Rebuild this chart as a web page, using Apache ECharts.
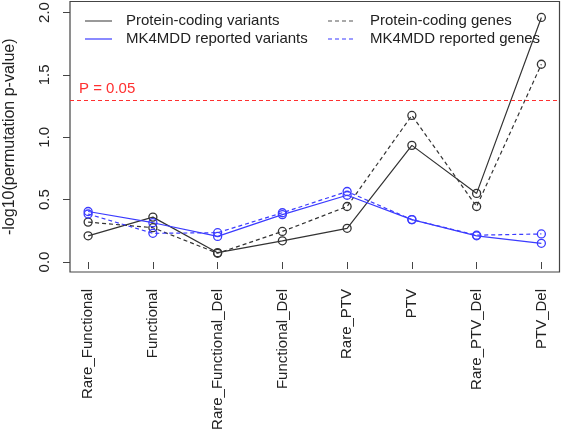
<!DOCTYPE html>
<html><head><meta charset="utf-8">
<script src="https://cdn.jsdelivr.net/npm/echarts@6/dist/echarts.min.js"></script>
<style>html,body{margin:0;padding:0;background:#fff}#c{width:562px;height:437px}</style>
</head><body><div id="c"></div>
<script>
const categories = ['Rare_Functional','Functional','Rare_Functional_Del','Functional_Del','Rare_PTV','PTV','Rare_PTV_Del','PTV_Del'];
const seriesNames = ['Protein-coding variants','MK4MDD reported variants','Protein-coding genes','MK4MDD reported genes'];
const pcVariants = [0.21, 0.36, 0.075, 0.17, 0.27, 0.935, 0.55, 1.96];
const mkVariants = [0.405, 0.315, 0.205, 0.38, 0.535, 0.34, 0.21, 0.15];
const pcGenes = [0.32, 0.275, 0.07, 0.245, 0.445, 1.175, 0.445, 1.585];
const mkGenes = [0.385, 0.23, 0.235, 0.395, 0.565, 0.34, 0.215, 0.225];
const yTicks = [0, 0.5, 1.0, 1.5, 2.0];
const pThreshold = 0.05;
const pLabel = 'P = 0.05';

const FONT = 'Liberation Sans, Arial, sans-serif';
const BLACK = '#333333';
const BLUE = '#3b3bff';
const xIdx = categories.map((c, i) => i + 1);
const toPts = arr => arr.map((v, i) => [i + 1, v]);

function mkSeries(name, data, color, dashed, withMark) {
  const s = {
    name, type: 'line', data: toPts(data),
    symbol: 'circle', symbolSize: 8,
    itemStyle: { color: 'rgba(0,0,0,0)', borderColor: color, borderWidth: 1.3 },
    lineStyle: { color, width: 1.2, type: dashed ? [4, 3] : 'solid' },
    emphasis: { disabled: true }, z: 3
  };
  if (withMark) {
    s.markLine = {
      silent: true, symbol: ['none', 'none'],
      lineStyle: { color: '#ff3030', width: 1.2, type: [4, 3] },
      label: { show: true, position: 'insideStartTop', formatter: pLabel, color: '#ff3030',
               fontFamily: FONT, fontSize: 15, distance: [9, 3] },
      data: [{ yAxis: -Math.log10(pThreshold) }]
    };
  }
  return s;
}

const legendItems = [
  { name: seriesNames[0], color: '#555', dashed: false, x: 85, y: 21 },
  { name: seriesNames[1], color: BLUE, dashed: false, x: 85, y: 39 },
  { name: seriesNames[2], color: '#555', dashed: true, x: 328, y: 21 },
  { name: seriesNames[3], color: BLUE, dashed: true, x: 328, y: 39 }
];
const graphic = [];
legendItems.forEach(it => {
  graphic.push({ type: 'line', shape: { x1: it.x, y1: it.y, x2: it.x + 27, y2: it.y },
    style: { stroke: it.color, lineWidth: 1.2, lineDash: it.dashed ? [4, 3] : null }, z: 10 });
  graphic.push({ type: 'text', x: it.x + (it.dashed ? 42 : 41), y: it.y,
    style: { text: it.name, fill: '#222', font: '15px ' + FONT, textVerticalAlign: 'middle' }, z: 10 });
});

const chart = echarts.init(document.getElementById('c'), null, { renderer: 'canvas' });
chart.setOption({
  animation: false,
  backgroundColor: '#fff',
  grid: { left: 70, right: 2.5, top: 1.5, bottom: 165, containLabel: false, outerBoundsMode: 'none',
          show: true, borderColor: '#444', borderWidth: 1.2, backgroundColor: 'transparent' },
  xAxis: {
    type: 'value', min: 0.72, max: 8.28,
    axisLine: { show: false },
    splitLine: { show: false },
    axisTick: { show: true, length: 7, lineStyle: { color: '#444' }, customValues: xIdx },
    axisLabel: { customValues: xIdx, rotate: 90, margin: 17, color: '#222', fontFamily: FONT, fontSize: 15,
      formatter: v => categories[Math.round(v) - 1] || '' }
  },
  yAxis: {
    type: 'value', min: -0.08, max: 2.088,
    name: '-log10(permutation p-value)', nameLocation: 'middle', nameGap: 52,
    nameTextStyle: { color: '#222', fontFamily: FONT, fontSize: 16 },
    axisLine: { show: false },
    splitLine: { show: false },
    axisTick: { show: true, length: 7, lineStyle: { color: '#444' }, customValues: yTicks },
    axisLabel: { customValues: yTicks, rotate: 90, margin: 18, color: '#222', fontFamily: FONT, fontSize: 15,
      formatter: v => v.toFixed(1) }
  },
  graphic,
  series: [
    mkSeries(seriesNames[0], pcVariants, BLACK, false, true),
    mkSeries(seriesNames[2], pcGenes, BLACK, true, false),
    mkSeries(seriesNames[1], mkVariants, BLUE, false, false),
    mkSeries(seriesNames[3], mkGenes, BLUE, true, false)
  ]
});
</script></body></html>
